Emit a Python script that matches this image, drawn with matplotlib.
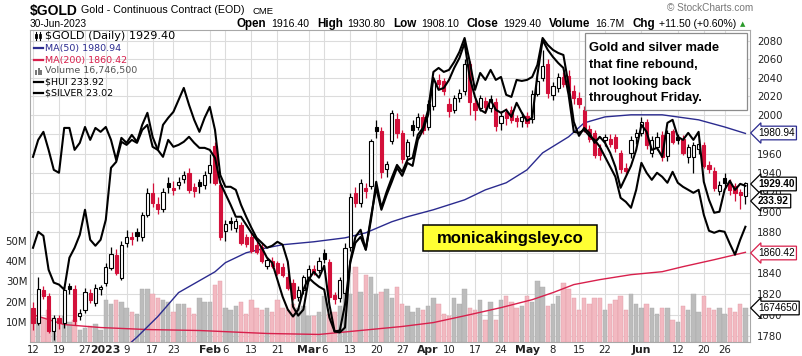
import matplotlib
matplotlib.use("Agg")
import matplotlib.pyplot as plt
from matplotlib.patches import Rectangle
from matplotlib.lines import Line2D
from matplotlib.ticker import FixedLocator, NullLocator, FuncFormatter
import numpy as np
import pandas as pd

# trading days on the chart (exchange holidays removed)
holidays = ["2022-12-26", "2023-01-02", "2023-01-16", "2023-02-20",
            "2023-04-07", "2023-05-29", "2023-06-19"]
dates = pd.bdate_range("2022-12-12", "2023-06-30").drop(pd.to_datetime(holidays))

# $GOLD daily candles
opens = [1807, 1792, 1824, 1818, 1785, 1797, 1792, 1828, 1825, 1799, 1805, 1821, 1811, 1825,
         1831, 1845, 1858, 1835, 1870, 1876, 1880, 1876, 1897, 1920, 1908, 1903, 1930, 1925, 1928, 1934,
         1940, 1926, 1931, 1928,
         1940, 1968, 1928, 1881, 1891, 1884, 1887, 1876, 1876, 1868, 1866, 1847, 1852, 1850, 1846, 1836,
         1831, 1817, 1824,
         1836, 1844, 1843, 1860, 1851, 1819, 1816, 1821, 1866, 1920, 1910, 1925, 1927, 1988, 1983, 1944,
         1973, 1996, 1981, 1957, 1990, 1988, 1998,
         1988, 2010, 2038, 2037, 2012, 2006, 2018, 2026, 2055, 2013, 2008, 2015, 2008, 2014, 1992, 2003,
         2006, 1997, 1994,
         1999, 1996, 2023, 2040, 2055, 2021, 2029, 2041, 2042, 2026, 2018, 2006, 1986, 1981, 1966, 1974,
         1975, 1977, 1961, 1945, 1961, 1977,
         1981, 1993, 1961, 1967, 1979, 1957, 1983, 1977, 1975, 1956, 1956, 1965, 1969, 1948, 1942, 1922,
         1935, 1930, 1927, 1921, 1916.4]
highs = [1812, 1836, 1828, 1821, 1800, 1800, 1828, 1831, 1829, 1806, 1826, 1825, 1830, 1829,
         1850, 1866, 1864, 1872, 1882, 1880, 1884, 1900, 1925, 1930, 1916, 1925, 1936, 1932, 1936, 1942,
         1945, 1930, 1934, 1942,
         1960, 1972, 1932, 1892, 1895, 1894, 1890, 1879, 1880, 1872, 1870, 1856, 1856, 1852, 1850, 1840,
         1834, 1828, 1838,
         1848, 1848, 1856, 1864, 1854, 1822, 1836, 1870, 1920, 1926, 1934, 1930, 1975, 1995, 1988, 1952,
         2006, 2002, 1984, 1975, 1995, 2002, 2001,
         2016, 2040, 2044, 2040, 2018, 2022, 2028, 2060, 2058, 2018, 2022, 2019, 2021, 2018, 2004, 2008,
         2010, 2000, 2003,
         2003, 2027, 2040, 2070, 2060, 2035, 2045, 2046, 2048, 2032, 2025, 2010, 1990, 1984, 1970, 1980,
         1980, 1980, 1964, 1950, 1978, 1986,
         1998, 1996, 1978, 1982, 1983, 1984, 1986, 1980, 1979, 1970, 1972, 1975, 1972, 1952, 1946, 1932,
         1940, 1934, 1930, 1924, 1930.8]
lows = [1786, 1790, 1815, 1783, 1776, 1787, 1788, 1820, 1790, 1795, 1802, 1811, 1808, 1819,
        1828, 1843, 1838, 1833, 1866, 1868, 1872, 1872, 1895, 1905, 1898, 1900, 1920, 1918, 1924, 1930,
        1920, 1916, 1920, 1924,
        1930, 1928, 1873, 1872, 1882, 1880, 1868, 1866, 1860, 1859, 1850, 1844, 1845, 1838, 1836, 1824,
        1814, 1813, 1820,
        1832, 1838, 1840, 1850, 1814, 1810, 1812, 1818, 1862, 1905, 1905, 1915, 1924, 1976, 1935, 1936,
        1970, 1976, 1950, 1952, 1978, 1985, 1980,
        1984, 2006, 2028, 2022, 1998, 2002, 2014, 2022, 2000, 1995, 2004, 2002, 2003, 1983, 1985, 1990,
        1992, 1988, 1988,
        1988, 1992, 2020, 2036, 2018, 2016, 2025, 2030, 2022, 2012, 2008, 1982, 1972, 1955, 1953, 1968,
        1967, 1962, 1940, 1938, 1955, 1970,
        1978, 1965, 1956, 1964, 1952, 1952, 1970, 1970, 1958, 1950, 1940, 1960, 1945, 1940, 1922, 1918,
        1926, 1918, 1912, 1903, 1908.1]
closes = [1792, 1825, 1818, 1785, 1797, 1792, 1824, 1825, 1794, 1802, 1822, 1814, 1826, 1827,
          1846, 1859, 1840, 1868, 1876, 1874, 1877, 1897, 1920, 1909, 1903, 1921, 1926, 1923, 1931, 1938,
          1923, 1922, 1927, 1938,
          1948, 1930, 1876, 1888, 1889, 1891, 1870, 1869, 1862, 1861, 1852, 1853, 1847, 1840, 1838, 1826,
          1816, 1824, 1836,
          1844, 1841, 1852, 1854, 1817, 1815, 1833, 1865, 1916, 1910, 1930, 1922, 1973, 1983, 1941, 1949,
          2002, 1981, 1954, 1972, 1984, 1998, 1985,
          2012, 2037, 2033, 2026, 2005, 2018, 2024, 2055, 2014, 2006, 2018, 2009, 2017, 1989, 1999, 1997,
          1995, 1994, 1998,
          1992, 2023, 2037, 2053, 2024, 2031, 2041, 2033, 2026, 2018, 2012, 1986, 1975, 1959, 1958, 1977,
          1970, 1966, 1944, 1942, 1974, 1981,
          1993, 1969, 1974, 1977, 1956, 1981, 1972, 1974, 1961, 1967, 1969, 1970, 1947, 1944, 1925, 1928,
          1930, 1923, 1920, 1917.9, 1929.4]

# daily volume, millions of contracts
volume_m = [14, 12, 12, 16, 12, 9, 13, 10, 11, 6, 7, 8, 9, 6,
            21, 19, 21, 20, 17, 15, 14, 26, 26, 24, 22, 21, 20, 15, 19, 19, 17, 14, 22, 20,
            20, 28, 30, 17, 16, 18, 20, 14, 21, 17, 16, 17, 15, 21, 17, 16, 19, 17, 18,
            13, 13, 15, 23, 14, 15, 18, 33, 24, 37, 25, 33, 32, 24, 25, 26, 22,
            27, 19, 18, 15, 17, 16, 18, 22, 19, 14, 13, 22, 19, 26, 17, 16, 21, 11, 20, 11,
            21, 23, 20, 17, 18, 23, 20, 30, 27, 18, 19, 23, 29, 26, 22, 16, 22, 19, 22, 22,
            16, 19, 21, 23, 16, 24, 19, 17, 19, 17, 14, 17, 17, 11, 10, 18, 16, 24, 15, 23,
            17, 16, 17, 14, 17, 15, 19, 16.75]

# $HUI and $SILVER overlays, as drawn against the gold price scale
hui = [1864.9, 1880.7, 1876.7, 1843.4, 1830.9, 1829.0, 1824.2, 1855.1, 1864.9, 1877.7, 1902.7, 1872.8,
       1866.9, 1872.8, 1892.7, 1945.3, 1951.4, 1972.2, 1969.0, 1974.2, 1971.1, 1984.6, 1989.9, 1967.0,
       1963.8, 1989.9, 1997.3, 2003.6, 2016.4, 2029.1, 2011.1, 1995.2, 1982.6, 1997.3, 2008.9, 1984.6,
       1938.1, 1925.9, 1925.9, 1922.8, 1907.7, 1895.7, 1884.7, 1874.7, 1869.8, 1864.9, 1866.9, 1870.8,
       1867.9, 1851.2, 1807.8, 1799.3, 1805.0, 1833.8, 1841.4, 1835.7, 1847.3, 1809.8, 1784.3, 1783.4,
       1788.0, 1851.2, 1875.7, 1882.7, 1863.0, 1892.7, 1931.0, 1904.7, 1920.8,
       1935.1, 1948.3, 1941.2, 1953.4, 1955.5, 1979.4, 1986.7, 2005.8, 2046.3, 2050.6, 2046.3, 2048.5,
       2057.1, 2068.0, 2083.3, 2057.1, 2027.0, 2045.2, 2037.7, 2048.5, 2037.7, 2040.9, 2021.7, 2019.5,
       2037.7, 2036.6, 2037.7, 2040.9, 2053.9, 2083.3, 2075.6, 2070.2, 2066.9, 2064.7, 2032.3,
       1993.0, 1978.4, 1986.7, 1981.5, 1971.1, 1977.4, 1971.1, 1960.7, 1946.3, 1924.9, 1936.1, 1947.3,
       1963.8, 1989.9, 1982.6, 1963.8, 1965.9, 1956.6, 1992.0, 1995.2, 1977.4, 1974.2, 1981.5, 1974.2,
       1982.6, 1931.0, 1912.7, 1899.7, 1900.7, 1922.8, 1932.0, 1922.8, 1928.9, 1926.9]
silver = [1956.6, 1974.2, 1982.6, 1963.8, 1943.2, 1940.2, 1986.7, 1986.7, 1963.8, 1971.1, 1987.7, 1974.2,
          1986.7, 1982.6, 1987.7, 1974.2, 1953.4, 1976.3, 1971.1, 1979.4, 1972.2, 1989.9, 2002.6, 1977.4,
          1963.8, 1956.6, 1974.2, 1967.0, 1969.0, 1972.2, 1977.4, 1971.1, 1965.9, 1965.9, 1963.8,
          1955.5, 1930.0, 1918.7, 1907.7, 1895.7, 1895.7, 1887.7, 1879.7, 1872.8, 1864.9, 1855.1, 1850.2,
          1833.8, 1817.4, 1805.0, 1798.4, 1805.0, 1824.2, 1835.7, 1830.9, 1827.0, 1824.2, 1797.4, 1784.3,
          1785.2, 1809.8, 1850.2, 1869.8, 1875.7, 1863.0, 1895.7, 1924.9, 1902.7, 1917.7,
          1931.0, 1945.3, 1937.1, 1950.4, 1947.3, 1974.2, 1984.6, 2000.5, 2039.8, 2027.0, 2029.1, 2037.7,
          2050.6, 2061.4, 2077.8, 2039.8, 2019.5, 2005.8, 2002.6, 2016.4, 2005.8, 2002.6, 2005.8, 1998.3,
          2013.2, 2002.6, 1994.1, 1997.3, 2043.1, 2081.1, 2070.2, 2062.5, 2056.0, 2050.6, 2021.7,
          1982.6, 1981.5, 1984.6, 1978.4, 1974.2, 1967.0, 1956.6, 1946.3, 1936.1, 1914.7, 1910.7, 1904.7,
          1922.8, 1950.4, 1940.2, 1933.0, 1940.2, 1936.1, 1930.0, 1941.2, 1930.0, 1925.9, 1922.8, 1919.8,
          1922.8, 1897.7, 1881.7, 1879.7, 1881.7, 1880.7, 1868.9, 1858.1, 1872.8, 1885.7]

# moving averages, read at a few dates
ma50_dates = ["2023-01-06", "2023-01-11", "2023-01-18", "2023-01-24", "2023-02-02", "2023-02-06",
              "2023-02-10", "2023-02-16", "2023-02-22", "2023-03-02", "2023-03-10", "2023-03-16",
              "2023-03-23", "2023-03-28", "2023-04-04", "2023-04-13", "2023-04-19", "2023-04-25",
              "2023-05-01", "2023-05-04", "2023-05-11", "2023-05-16", "2023-05-22", "2023-05-30",
              "2023-06-07", "2023-06-16", "2023-06-26", "2023-06-30"]
ma50_vals = [1766, 1779, 1798.4, 1821.3, 1841.4, 1850.3, 1860.0, 1864.9, 1867.9, 1870.8, 1874.7,
             1879.7, 1890.7, 1895.7, 1902.7, 1912.7, 1922.8, 1930.0, 1943.2, 1960.7, 1977.4, 1992.0,
             1998.3, 2000.5, 2000.5, 1995.2, 1987.7, 1980.94]
ma200_dates = ["2022-12-12", "2022-12-20", "2022-12-30", "2023-01-13", "2023-01-30", "2023-02-16",
               "2023-03-03", "2023-03-13", "2023-03-27", "2023-04-04", "2023-04-14", "2023-04-24",
               "2023-05-02", "2023-05-08", "2023-05-12", "2023-05-19", "2023-05-30", "2023-06-07",
               "2023-06-13", "2023-06-22", "2023-06-30"]
ma200_vals = [1800.2, 1790.8, 1788.0, 1786.1, 1785.2, 1782.4, 1781.5, 1784.3, 1789.0, 1792.7, 1800.2,
              1806.9, 1814.5, 1821.3, 1829.0, 1833.8, 1838.6, 1841.5, 1846.4, 1853.2, 1860.42]

tick_dates = ["2022-12-12", "2022-12-19", "2022-12-27", "2023-01-03", "2023-01-09", "2023-01-17",
              "2023-01-23", "2023-02-01", "2023-02-06", "2023-02-13", "2023-02-21", "2023-03-01",
              "2023-03-06", "2023-03-13", "2023-03-20", "2023-03-27", "2023-04-03", "2023-04-10",
              "2023-04-17", "2023-04-24", "2023-05-01", "2023-05-08", "2023-05-15", "2023-05-22",
              "2023-06-01", "2023-06-12", "2023-06-20", "2023-06-26"]
tick_labels = ["12", "19", "27", "2023", "9", "17", "23", "Feb", "6", "13", "21", "Mar", "6", "13",
               "20", "27", "Apr", "10", "17", "24", "May", "8", "15", "22", "Jun", "12", "20", "26"]
price_ticks = list(range(1780, 2081, 20))
hidden_price_labels = [1980, 1860]   # covered by the MA tags
volume_ticks = [10, 20, 30, 40, 50]

# ---------------------------------------------------------------------------
W, H = 803, 356


def fx(px):
    return px / W


def fy(py):
    return 1 - py / H


def pos(d):
    return dates.get_loc(pd.Timestamp(d))


RED = "#d3103a"
PINK = "#f2b9c1"
GREY = "#bcbcbc"
NAVY = "#2b2b8f"
MARED = "#d8204c"
GRID = "#dcdcdc"

fig = plt.figure(figsize=(W / 100, H / 100), dpi=100)
rect = [fx(30), fy(342), (750 - 30) / W, (342 - 30) / H]
ax_g = fig.add_axes(rect, zorder=0)
ax_v = fig.add_axes(rect, zorder=1, sharex=ax_g)
ax = fig.add_axes(rect, zorder=2, sharex=ax_g)
ax_v.patch.set_alpha(0)
ax.patch.set_alpha(0)

x = np.arange(len(dates))
o, h, l, c = (np.array(a, dtype=float) for a in (opens, highs, lows, closes))
prev = np.r_[o[0], c[:-1]]
up = c >= prev
col = np.where(up, "black", RED)

ylo, yhi = 1774.4, 2092.1
for a in (ax_g, ax):
    a.set_yscale("log")
    a.set_ylim(ylo, yhi)
    a.yaxis.set_minor_locator(NullLocator())

# grid layer
ax_g.yaxis.set_major_locator(FixedLocator(price_ticks))
ax_g.yaxis.set_major_formatter(FuncFormatter(
    lambda v, p: "" if round(v) in hidden_price_labels else f"{v:.0f}"))
ax_g.yaxis.tick_right()
ax_g.tick_params(axis="y", length=0, pad=5, labelsize=7.3, labelcolor="#222")
tick_pos = [pos(d) for d in tick_dates]
ax_g.set_xticks(tick_pos)
ax_g.set_xticklabels(tick_labels)
ax_g.tick_params(axis="x", length=0, pad=2.5, labelsize=7.3, labelcolor="#222")
for lab in ax_g.get_xticklabels():
    if not lab.get_text().isdigit() or lab.get_text() == "2023":
        lab.set_fontweight("bold")
        lab.set_fontsize(7.8)
ax_g.grid(True, color=GRID, linewidth=0.8)
for s in ax_g.spines.values():
    s.set_color("#a8a8a8")
    s.set_linewidth(0.8)

# volume layer
ax_v.bar(x, volume_m, width=0.86, color=np.where(up, GREY, PINK),
         edgecolor=np.where(up, "#a9a9a9", "#e29aa5"), linewidth=0.3)
ax_v.set_ylim(0, 312 / 2.02)
ax_v.set_yticks(volume_ticks)
ax_v.set_yticklabels([f"{v}M" for v in volume_ticks])
ax_v.tick_params(axis="y", length=0, pad=2, labelsize=7.3, labelcolor="#222")
ax_v.tick_params(axis="x", bottom=False, labelbottom=False)
for s in ax_v.spines.values():
    s.set_visible(False)

# price layer
ax.plot([pos(d) for d in ma200_dates], ma200_vals, color=MARED, lw=1.0, zorder=2)
ax.plot([pos(d) for d in ma50_dates], ma50_vals, color=NAVY, lw=1.0, zorder=2)
ax.vlines(x, l, h, colors=col, linewidth=0.9, zorder=3)
body_lo = np.minimum(o, c)
body_h = np.maximum(np.abs(c - o), 0.6)
face = np.where(c > o, "white", col)
ax.bar(x, body_h, bottom=body_lo, width=0.64, color=face, edgecolor=col, linewidth=0.8, zorder=3)
ax.plot(x, silver, color="black", lw=1.5, zorder=4)
ax.plot(x, hui, color="black", lw=1.5, zorder=4)
ax.set_yticks([])
ax.tick_params(axis="x", bottom=False, labelbottom=False)
ax.tick_params(axis="y", which="both", left=False, right=False, labelleft=False)
for s in ax.spines.values():
    s.set_visible(False)
ax_g.set_xlim((30 - 33) / 5.2, (750 - 33) / 5.2)

# header
fig.text(fx(30), fy(11), "$GOLD", fontsize=10, fontweight="bold",
         family="Liberation Sans", va="center")
fig.text(fx(81), fy(10), "Gold - Continuous Contract (EOD)", fontsize=7.7, family="Liberation Sans",
         va="center")
fig.text(fx(253), fy(11), "CME", fontsize=6.8, family="Liberation Sans", va="center")
fig.text(fx(30), fy(24), "30-Jun-2023", fontsize=7.3, family="Liberation Sans", va="center")
fig.text(fx(753), fy(8), "\u00a9 StockCharts.com", fontsize=7.2, family="Liberation Sans",
         color="#777777", va="center", ha="right")

renderer = fig.canvas.get_renderer()
pieces = [("Open", True), ("1916.40", False), ("High", True), ("1930.80", False),
          ("Low", True), ("1908.10", False), ("Close", True), ("1929.40", False),
          ("Volume", True), ("16.7M", False), ("Chg", True), ("+11.50 (+0.60%)", False)]
cx = 237
for s, bold in pieces:
    t = fig.text(fx(cx), fy(24), s, fontsize=8.4 if bold else 7.6, family="Liberation Sans",
                 fontweight="bold" if bold else "normal", va="center")
    cx += t.get_window_extent(renderer=renderer).width + (4.5 if bold else 8)
fig.text(fx(cx - 5), fy(24), "\u25b2", fontsize=5, color="#2a9a2a", va="center")

# in-chart legend
legend = [("$GOLD (Daily) 1929.40", "black", 8.1, 36),
          ("MA(50) 1980.94", NAVY, 6.8, 48),
          ("MA(200) 1860.42", MARED, 6.8, 60),
          ("Volume 16,746,500", "#555555", 6.8, 71),
          ("$HUI 233.92", "black", 6.8, 82),
          ("$SILVER 23.02", "black", 6.8, 93)]
for k, (s, colr, fs, yy) in enumerate(legend):
    fig.text(fx(45), fy(yy), s, fontsize=fs, color=colr, family="DejaVu Sans", va="center")
    if k in (1, 2, 4, 5):
        fig.add_artist(Line2D([fx(34), fx(43)], [fy(yy), fy(yy)], color=colr, lw=1.6))
    elif k == 3:
        for j, hh in enumerate((4, 7, 5)):
            fig.add_artist(Rectangle((fx(35 + j * 2.6), fy(yy + 3.5)), 2 / W, hh / H,
                                     color="#777777", lw=0))
    else:
        for j in range(2):
            fig.add_artist(Line2D([fx(36 + j * 4)] * 2, [fy(yy + 4), fy(yy - 4)], color="black", lw=0.8))
            fig.add_artist(Rectangle((fx(35 + j * 4), fy(yy + 2)), 2.4 / W, 4.5 / H,
                                     facecolor="white" if j else "black", edgecolor="black", lw=0.6))

# comment box
fig.add_artist(Rectangle((fx(585), fy(110)), (747 - 585) / W, (110 - 33) / H,
                         facecolor="white", edgecolor="#8c8c8c", lw=0.9, zorder=5))
for k, s in enumerate(["Gold and silver made", "that fine rebound,", "not looking back",
                       "throughout Friday."]):
    fig.text(fx(589), fy(48 + k * 16.8), s, fontsize=9.3, fontweight="bold",
             family="Liberation Sans", va="center", zorder=6)

# site banner
fig.add_artist(Rectangle((fx(423), fy(251)), (597 - 423) / W, (251 - 225) / H,
                         facecolor="#ffff33", edgecolor="black", lw=1.1, zorder=5))
fig.text(fx(510), fy(238), "monicakingsley.co", fontsize=12, fontweight="bold",
         family="Liberation Sans", ha="center", va="center", zorder=6)

# value tags on the right axis
tags = [("1980.94", NAVY, False, 133), ("1929.40", "black", True, 184),
        ("233.92", "black", True, 201), ("1860.42", MARED, False, 253),
        ("1674650", "black", False, 308)]
for s, colr, bold, yy in tags:
    fig.text(fx(758), fy(yy), s, fontsize=7.3, fontweight="bold" if bold else "normal",
             family="Liberation Sans", va="center", ha="left", zorder=7,
             bbox=dict(boxstyle="larrow,pad=0.18", facecolor="white", edgecolor=colr, lw=0.9))

fig.savefig("out.png", dpi=100)
